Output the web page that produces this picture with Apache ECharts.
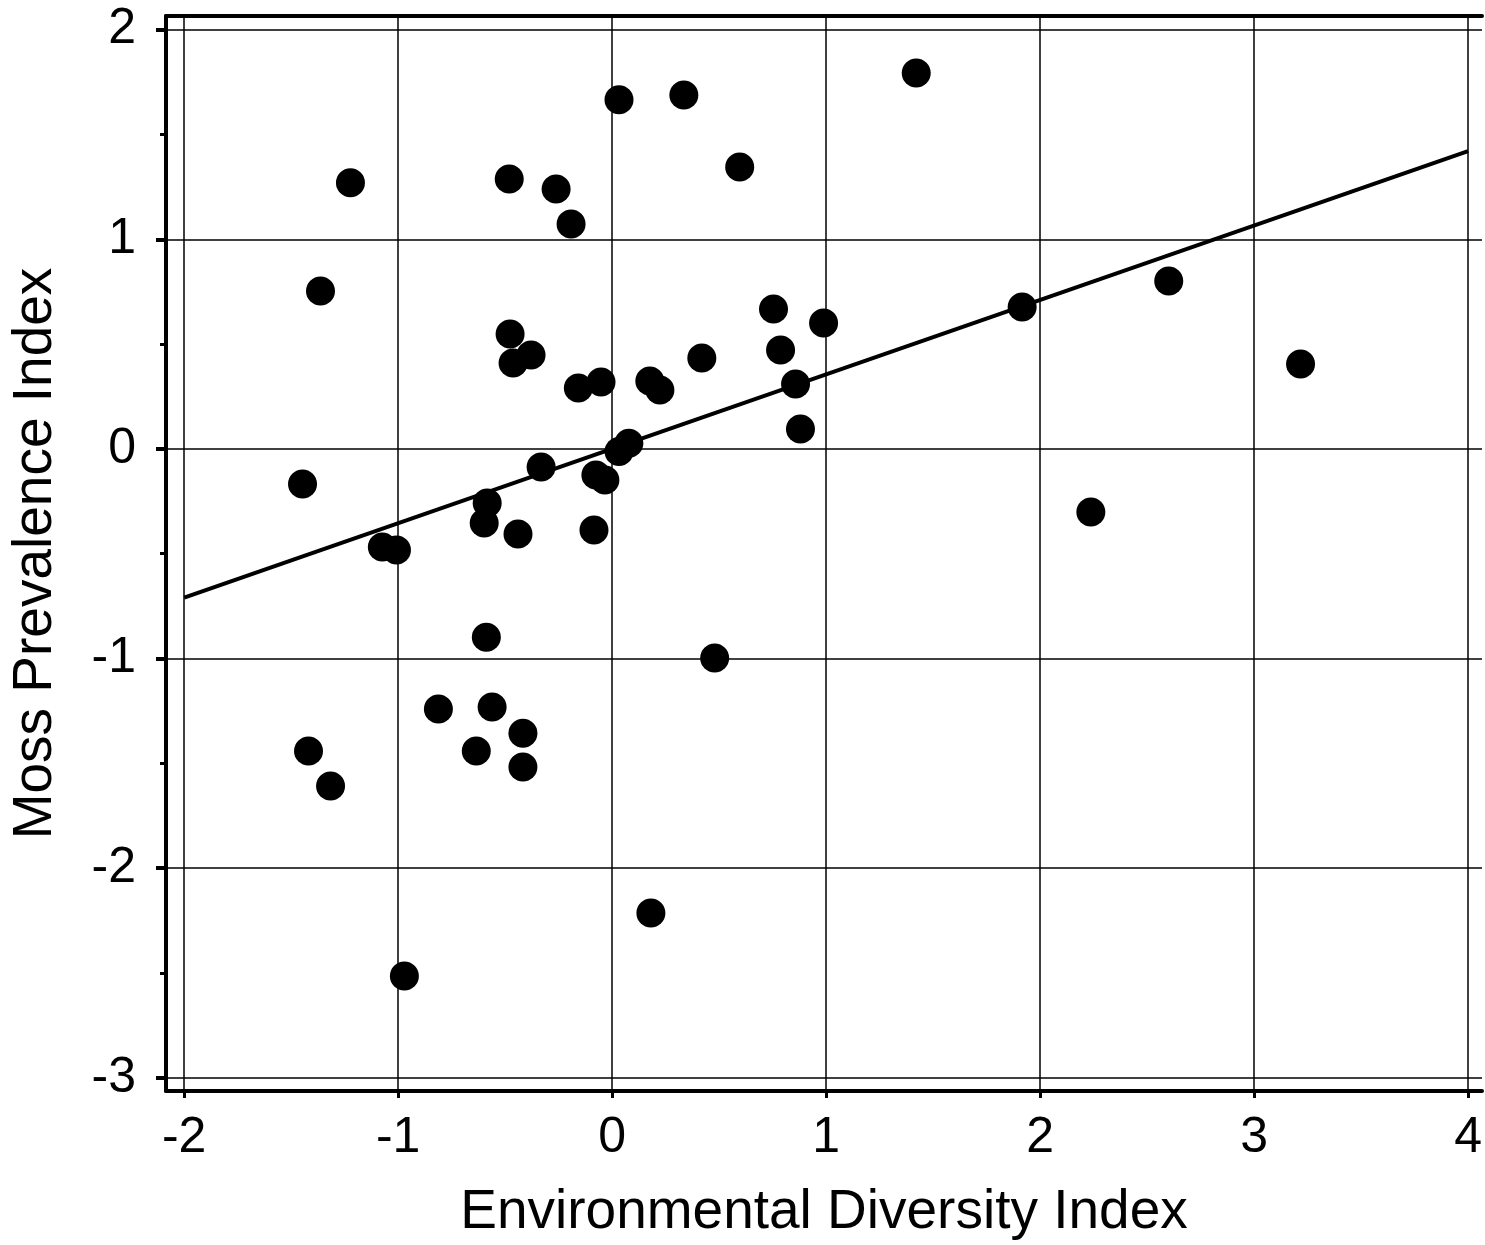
<!DOCTYPE html>
<html>
<head>
<meta charset="utf-8">
<script src="https://cdn.jsdelivr.net/npm/echarts@6/dist/echarts.min.js"></script>
<style>
  html, body { margin: 0; padding: 0; background: #fff; }
  #chart { width: 1485px; height: 1245px; }
</style>
</head>
<body>
<div id="chart"></div>
<script>
// environmental diversity (x) vs moss prevalence (y)
const envDiversity = [
  1.421, 0.335, 0.032, 0.596, -1.223, -0.481, -0.262, -0.192, -1.363, 2.601,
  1.916, 0.754, 0.988, -0.477, -0.379, -0.463, 0.787, 0.419, 3.217, -0.158,
  -0.052, 0.176, 0.223, 0.857, 0.880, 0.078, 0.032, -0.332, -0.076, -0.034,
  -1.447, -0.584, 2.237, -0.598, -0.085, -0.440, -1.074, -1.008, -0.588, 0.479,
  -0.812, -0.561, -0.417, -1.419, -0.635, -0.417, -1.316, 0.181, -0.971
];
const mossPrevalence = [
  1.793, 1.688, 1.665, 1.345, 1.269, 1.288, 1.240, 1.073, 0.753, 0.801,
  0.677, 0.667, 0.601, 0.548, 0.448, 0.410, 0.472, 0.434, 0.405, 0.291,
  0.319, 0.324, 0.281, 0.310, 0.095, 0.027, -0.012, -0.086, -0.124, -0.148,
  -0.167, -0.258, -0.301, -0.354, -0.387, -0.406, -0.468, -0.482, -0.898, -0.998,
  -1.241, -1.231, -1.356, -1.441, -1.441, -1.518, -1.608, -2.214, -2.515
];

// fitted line end points
const fitX = [-2, 4];
const fitY = [-0.71, 1.42];

const xTicks = [-2, -1, 0, 1, 2, 3, 4];
const yTicks = [-3, -2, -1, 0, 1, 2];
const yMinorTicks = [-2.5, -1.5, -0.5, 0.5, 1.5];

const FONT = '"Liberation Sans", Arial, sans-serif';

const points = envDiversity.map((x, i) => [x, mossPrevalence[i]]);
const fitLine = fitX.map((x, i) => [x, fitY[i]]);

const gridLines = xTicks.map(v => ({ xAxis: v })).concat(yTicks.map(v => ({ yAxis: v })));

const chart = echarts.init(document.getElementById('chart'));

chart.setOption({
  animation: false,
  backgroundColor: '#fff',
  grid: { left: 166, right: 0, top: 16, bottom: 154 },
  xAxis: [
    {
      type: 'value', position: 'bottom',
      min: -2.085, max: 4.065,
      name: 'Environmental Diversity Index',
      nameLocation: 'middle', nameGap: 94,
      nameTextStyle: { fontFamily: FONT, fontSize: 55, color: '#000' },
      axisLine: { show: true, onZero: false, lineStyle: { color: '#000', width: 4 } },
      axisTick: { show: true, inside: false, length: 7, customValues: xTicks, lineStyle: { color: '#000', width: 3 } },
      axisLabel: { show: true, customValues: xTicks, margin: 22, fontFamily: FONT, fontSize: 50, color: '#000' },
      splitLine: { show: false }
    },
    {
      type: 'value', position: 'top',
      min: -2.085, max: 4.065,
      axisLine: { show: true, onZero: false, lineStyle: { color: '#000', width: 4 } },
      axisTick: { show: false }, axisLabel: { show: false }, splitLine: { show: false }
    }
  ],
  yAxis: [
    {
      type: 'value', position: 'left',
      min: -3.063, max: 2.065,
      name: 'Moss Prevalence Index',
      nameLocation: 'middle', nameGap: 103,
      nameTextStyle: { fontFamily: FONT, fontSize: 55, color: '#000' },
      axisLine: { show: true, onZero: false, lineStyle: { color: '#000', width: 4 } },
      axisTick: { show: true, inside: false, length: 10, customValues: yTicks, lineStyle: { color: '#000', width: 4 } },
      axisLabel: { show: true, customValues: yTicks, margin: 30, fontFamily: FONT, fontSize: 50, color: '#000' },
      splitLine: { show: false }
    },
    {
      type: 'value', position: 'left',
      min: -3.063, max: 2.065,
      axisLine: { show: false, onZero: false },
      axisTick: { show: true, inside: false, length: 6, customValues: yMinorTicks, lineStyle: { color: '#000', width: 3 } },
      axisLabel: { show: false, customValues: yMinorTicks },
      splitLine: { show: false }
    }
  ],
  series: [
    {
      // grid lines
      type: 'line', data: [], z: 1, silent: true,
      markLine: {
        silent: true, symbol: ['none', 'none'],
        label: { show: false },
        lineStyle: { color: '#000', width: 1.5, type: 'solid' },
        emphasis: { disabled: true },
        data: gridLines
      }
    },
    {
      type: 'line', data: fitLine, z: 2, silent: true,
      showSymbol: false, symbol: 'none',
      lineStyle: { color: '#000', width: 4 }
    },
    {
      type: 'scatter', data: points, z: 3, silent: true,
      symbol: 'circle', symbolSize: 29,
      itemStyle: { color: '#000', opacity: 1 }
    }
  ]
});
</script>
</body>
</html>
